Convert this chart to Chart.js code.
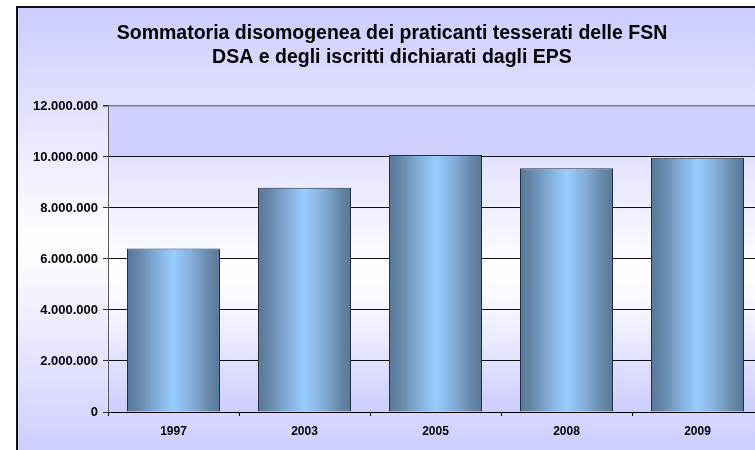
<!DOCTYPE html>
<html><head><meta charset="utf-8">
<script src="https://cdn.jsdelivr.net/npm/chart.js@4/dist/chart.umd.min.js"></script>
<style>html,body{margin:0;padding:0;overflow:hidden;background:#fff;width:755px;height:450px}canvas{position:absolute;left:0;top:0}</style>
</head><body><canvas id="c" width="780" height="470" style="width:780px;height:470px"></canvas>
<script>
const years = ['1997', '2003', '2005', '2008', '2009'];
const praticanti = [6410000, 8790000, 10080000, 9560000, 9970000];
const titleLines = ['Sommatoria disomogenea dei praticanti tesserati delle FSN', 'DSA e degli iscritti dichiarati dagli EPS'];
const yMin = 0, yMax = 12000000, yStep = 2000000;

const FONT = "'Liberation Sans', Arial, sans-serif";
function fmt(v) { return String(Math.round(v)).replace(/\B(?=(\d{3})+(?!\d))/g, '.'); }

const bgPlugin = {
  id: 'bg',
  beforeDraw(chart) {
    const ctx = chart.ctx, ca = chart.chartArea;
    ctx.save();
    ctx.fillStyle = '#fff';
    ctx.fillRect(0, 0, chart.width, chart.height);
    const g = ctx.createLinearGradient(0, 8, 0, 460);
    g.addColorStop(0, '#CCCCFF');
    g.addColorStop(0.52, '#FFFFFF');
    g.addColorStop(1, '#CCCCFF');
    ctx.fillStyle = g;
    ctx.fillRect(17, 7, chart.width, chart.height);
    ctx.strokeStyle = '#111';
    ctx.lineWidth = 2;
    ctx.beginPath();
    ctx.moveTo(17, chart.height);
    ctx.lineTo(17, 7);
    ctx.lineTo(chart.width, 7);
    ctx.stroke();
    // plot area
    const y10 = chart.scales.y.getPixelForValue(10000000);
    ctx.fillStyle = '#D0D0FF';
    ctx.fillRect(ca.left, ca.top, ca.right - ca.left, y10 - ca.top);
    const pg = ctx.createLinearGradient(0, y10, 0, ca.bottom);
    pg.addColorStop(0, '#E2E2FF');
    pg.addColorStop(0.45, '#FFFFFF');
    pg.addColorStop(0.6, '#F6F6FF');
    pg.addColorStop(1, '#CCCCFF');
    ctx.fillStyle = pg;
    ctx.fillRect(ca.left, y10, ca.right - ca.left, ca.bottom - y10);
    ctx.restore();
  }
};

const chart = new Chart(document.getElementById('c'), {
  type: 'bar',
  data: {
    labels: years,
    datasets: [{
      label: 'Praticanti',
      data: praticanti,
      categoryPercentage: 1,
      barPercentage: 0.71,
      borderWidth: 1,
      borderColor: '#26303c',
      backgroundColor(ctx) {
        const chart = ctx.chart, xs = chart.scales.x;
        if (!xs || !chart.chartArea) return '#7FA6CC';
        const cx = xs.getPixelForValue(ctx.dataIndex);
        const w = (xs.width / years.length) * 0.71;
        const g = chart.ctx.createLinearGradient(cx - w / 2, 0, cx + w / 2, 0);
        g.addColorStop(0, '#587899');
        g.addColorStop(0.12, '#6486A8');
        g.addColorStop(0.3, '#80AAD4');
        g.addColorStop(0.5, '#99CCFF');
        g.addColorStop(0.7, '#84AED8');
        g.addColorStop(0.88, '#6688AA');
        g.addColorStop(1, '#587899');
        return g;
      }
    }]
  },
  options: {
    responsive: false,
    animation: false,
    devicePixelRatio: 1,
    layout: { padding: { left: 21, right: 17, top: 0, bottom: 0 } },
    plugins: {
      legend: { display: false },
      tooltip: { enabled: false },
      title: {
        display: true,
        text: titleLines,
        color: '#000',
        font: { family: FONT, size: 19.5, weight: 'bold', lineHeight: 1.23 },
        padding: { top: 21.5, bottom: 36.5 }
      }
    },
    scales: {
      x: {
        afterFit(s) { s.height = 58; },
        grid: { display: true, drawOnChartArea: false, offset: true, tickLength: 4, tickColor: '#000', color: '#000' },
        border: { display: true, color: '#000', width: 1 },
        ticks: { color: '#000', padding: 8, font: { family: FONT, size: 12, weight: 'bold' } }
      },
      y: {
        min: yMin, max: yMax,
        afterFit(s) { s.width = 87; },
        grid: {
          color(c) { return c.tick && c.tick.value === yMax ? '#808080' : '#111'; },
          lineWidth(c) { return c.tick && c.tick.value === yMax ? 1.5 : 1; },
          tickLength: 5, tickColor: '#333'
        },
        border: { display: true, color: '#5a5a5a', width: 1 },
        ticks: {
          stepSize: yStep, color: '#000', padding: 5,
          font: { family: FONT, size: 13, weight: 'bold' },
          callback(v) { return fmt(v); }
        }
      }
    }
  },
  plugins: [bgPlugin]
});
</script>
</body></html>
